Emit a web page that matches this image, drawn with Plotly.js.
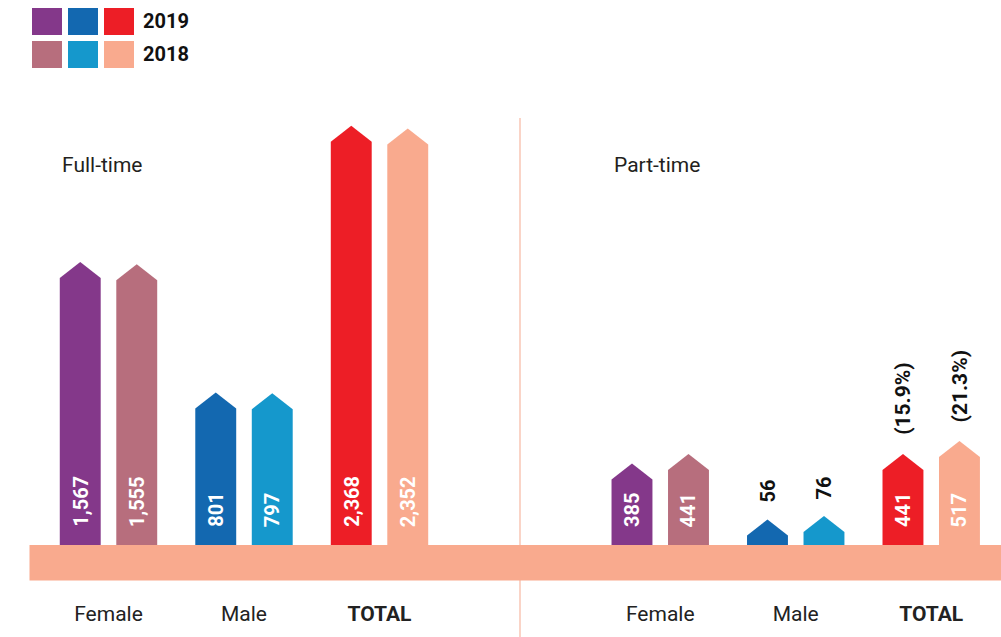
<!DOCTYPE html>
<html><head><meta charset="utf-8">
<script src="https://cdn.plot.ly/plotly-3.0.1.min.js"></script>
<style>html,body{margin:0;padding:0;background:#fff}</style>
</head><body><div id="chart" style="width:1001px;height:637px"></div>
<script>
// ---- data ----
const categories = ["Female", "Male", "TOTAL"];
const years = ["2019", "2018"];
const panels = ["Full-time", "Part-time"];
const fullTime2019 = [1567, 801, 2368];
const fullTime2018 = [1555, 797, 2352];
const partTime2019 = [385, 56, 441];
const partTime2018 = [441, 76, 517];
const partTimeNote2019 = ["", "", "(15.9%)"];
const partTimeNote2018 = ["", "", "(21.3%)"];
const colors2019 = ["#84388A", "#1368B0", "#ED1E26"];
const colors2018 = ["#B76E7D", "#1598CC", "#F9AA8E"];

// ---- layout constants ----
const W = 1001, H = 637;
const baseY = 545;                 // px of bar baseline
const yMax = 3200;
const plotH = baseY;               // y domain spans 0..baseY px
const TIP = 16 * yMax / plotH;     // arrow tip height in data units
const HALF = 0.151;                // half bar width (x units)
const OFF = 0.2085;                // pair offset (x units)
const FONT = "Roboto, 'Open Sans', sans-serif";

const panelData = [
  {xa: "x", ya: "y", s2019: fullTime2019, s2018: fullTime2018, n2019: null, n2018: null},
  {xa: "x2", ya: "y", s2019: partTime2019, s2018: partTime2018, n2019: partTimeNote2019, n2018: partTimeNote2018}
];

const traces = [];
const annotations = [];

function house(xc, v) {
  return {
    x: [xc - HALF, xc - HALF, xc, xc + HALF, xc + HALF, xc - HALF],
    y: [0, v, v + TIP, v, 0, 0]
  };
}

panelData.forEach(p => {
  [[p.s2019, colors2019, -OFF, p.n2019, years[0]], [p.s2018, colors2018, OFF, p.n2018, years[1]]].forEach(([vals, cols, off, notes, yr]) => {
    vals.forEach((v, i) => {
      const xc = i + off;
      const poly = house(xc, v);
      traces.push({
        type: "scatter", mode: "lines", fill: "toself",
        x: poly.x, y: poly.y, xaxis: p.xa, yaxis: p.ya,
        fillcolor: cols[i], line: {width: 0, color: cols[i]},
        hoverinfo: "skip", showlegend: false, name: yr
      });
      const label = v.toLocaleString("en-US");
      const inside = v >= 200;
      annotations.push({
        xref: p.xa, yref: p.ya, x: xc, y: inside ? 0 : v + TIP,
        text: "<b>" + label + "</b>", showarrow: false, textangle: -90,
        xanchor: "center", yanchor: "bottom", yshift: inside ? 16 : 15,
        font: {family: FONT, size: 20, color: inside ? "#ffffff" : "#111111"}
      });
      if (notes && notes[i]) {
        annotations.push({
          xref: p.xa, yref: p.ya, x: xc, y: v + TIP,
          text: "<b>" + notes[i] + "</b>", showarrow: false, textangle: -90,
          xanchor: "center", yanchor: "bottom", yshift: 17,
          font: {family: FONT, size: 21, color: "#111111"}
        });
      }
    });
  });
});

// panel titles
[[panels[0], 60], [panels[1], 612]].forEach(([t, px]) => {
  annotations.push({
    xref: "paper", yref: "paper", x: px / W, y: 1 - 165 / H,
    xanchor: "left", yanchor: "middle", showarrow: false, text: t,
    font: {family: FONT, size: 21, color: "#231f20"}
  });
});

// legend
const shapes = [];
const sqX = [32, 68, 104];
[[colors2019, 8, years[0]], [colors2018, 41, years[1]]].forEach(([cols, top, yr]) => {
  cols.forEach((c, i) => {
    shapes.push({
      type: "rect", xref: "paper", yref: "paper", layer: "above",
      x0: sqX[i] / W, x1: (sqX[i] + 30) / W, y0: 1 - (top + 27) / H, y1: 1 - top / H,
      fillcolor: c, line: {width: 0}
    });
  });
  annotations.push({
    xref: "paper", yref: "paper", x: 141 / W, y: 1 - (top + 13.5) / H,
    xanchor: "left", yanchor: "middle", showarrow: false, text: "<b>" + yr + "</b>",
    font: {family: FONT, size: 20, color: "#111111"}
  });
});

// divider line and base band
shapes.push({
  type: "line", xref: "paper", yref: "paper", layer: "below",
  x0: 520 / W, x1: 520 / W, y0: 0, y1: 1 - 118 / H,
  line: {color: "#F9C6B5", width: 1.5}
});
shapes.push({
  type: "rect", xref: "paper", yref: "paper", layer: "below",
  x0: 29.5 / W, x1: 1, y0: 1 - 580.5 / H, y1: 1 - baseY / H,
  fillcolor: "#F9AA8E", line: {width: 0}
});

const tickText = categories.map(c => c === "TOTAL" ? "<b>" + c + "</b>" : c);
const xCommon = {
  tickmode: "array", tickvals: [0, 1, 2], ticktext: tickText,
  showgrid: false, zeroline: false, showline: false, ticks: "",
  tickfont: {family: FONT, size: 21, color: "#222222"},
  ticklabelstandoff: 54, fixedrange: true
};

const layout = {
  width: W, height: H,
  margin: {l: 0, r: 0, t: 0, b: 0, pad: 0},
  paper_bgcolor: "#ffffff", plot_bgcolor: "rgba(0,0,0,0)",
  showlegend: false,
  xaxis: Object.assign({}, xCommon, {domain: [0, 0.5], range: [-0.8007, 2.893], anchor: "y"}),
  xaxis2: Object.assign({}, xCommon, {domain: [0.5, 1], range: [-1.179, 2.515], anchor: "y"}),
  yaxis: {domain: [1 - baseY / H, 1], range: [0, yMax], visible: false, fixedrange: true},
  shapes: shapes,
  annotations: annotations
};

Plotly.newPlot("chart", traces, layout, {displayModeBar: false, staticPlot: true});
</script>
</body></html>
